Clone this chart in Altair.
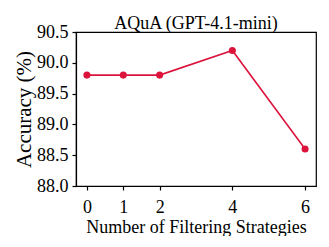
import altair as alt
import pandas as pd

strategies = [0, 1, 2, 4, 6]
accuracy = [89.8, 89.8, 89.8, 90.2, 88.6]
x_ticks = [0, 1, 2, 4, 6]
y_ticks = [88.0, 88.5, 89.0, 89.5, 90.0, 90.5]

df = pd.DataFrame({"n": strategies, "acc": accuracy})
FONT = "Liberation Serif"
COLOR = "#DC143C"

x = alt.X("n:Q", scale=alt.Scale(domain=[-0.3, 6.3], nice=False, zero=False),
          axis=alt.Axis(values=x_ticks, title="Number of Filtering Strategies", format="d",
                        grid=False, tickSize=4, labelPadding=8, titlePadding=2,
                        labelFont=FONT, titleFont=FONT, labelFontSize=18, titleFontSize=18,
                        titleFontWeight="normal", labelColor="black", titleColor="black"))
y = alt.Y("acc:Q", scale=alt.Scale(domain=[88.0, 90.5], nice=False, zero=False),
          axis=alt.Axis(values=y_ticks, title="Accuracy (%)", format=".1f",
                        grid=False, tickSize=4, labelPadding=4, titlePadding=2,
                        labelFont=FONT, titleFont=FONT, labelFontSize=18, titleFontSize=21,
                        titleFontWeight="normal", labelColor="black", titleColor="black"))

line = alt.Chart(df).mark_line(color=COLOR, strokeWidth=1.6).encode(x=x, y=y)
pts = alt.Chart(df).mark_circle(color=COLOR, size=50, opacity=1).encode(x=x, y=y)

chart = (line + pts).properties(
    width=240, height=154,
    background="white",
    title=alt.TitleParams("AQuA (GPT-4.1-mini)", font=FONT, fontSize=18, fontWeight="normal",
                          color="black", offset=-10, frame="group", anchor="middle"),
    autosize=alt.AutoSizeParams(type="none"),
    padding={"left": 68, "top": 24, "right": 5, "bottom": 50},
).configure_view(stroke="black", strokeWidth=1.2).configure_axis(
    domainColor="black", tickColor="black", domainWidth=1.2, tickWidth=1.2,
)

chart.save("out.html", embed_options={"renderer": "svg", "actions": False})
